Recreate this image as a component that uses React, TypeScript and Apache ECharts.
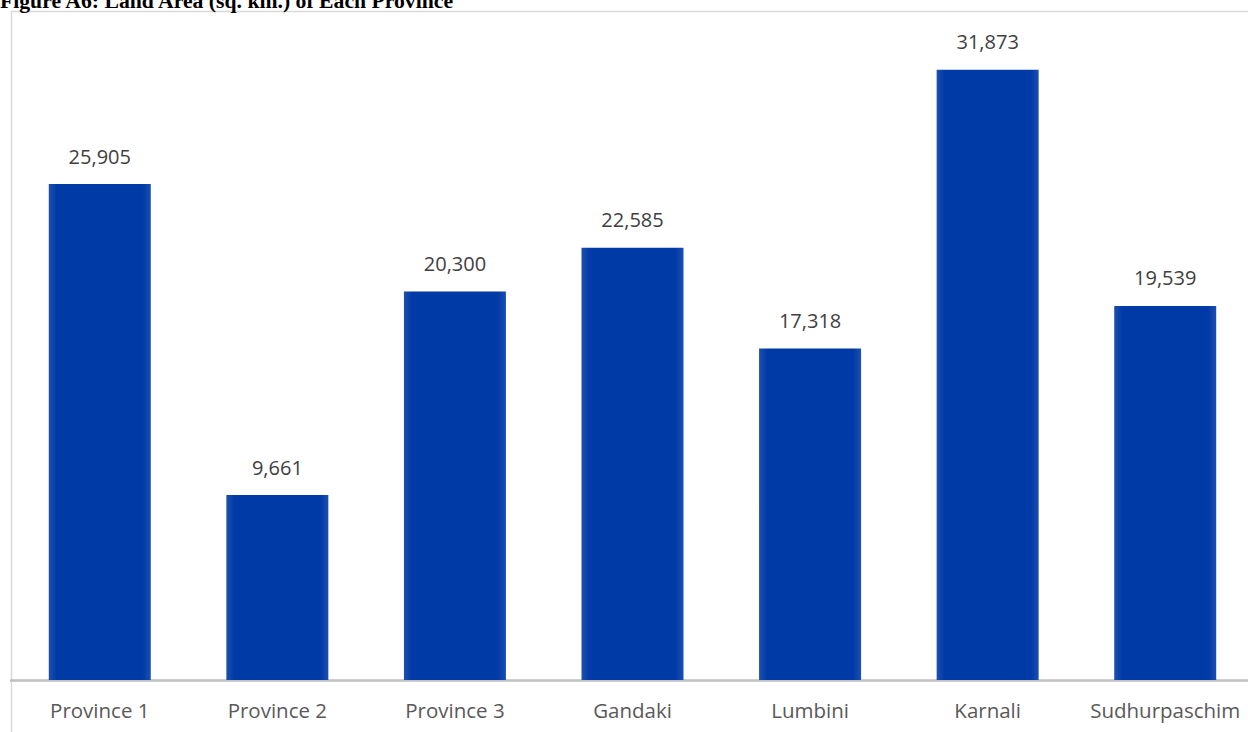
import React, { useEffect, useRef } from "react";
import * as echarts from "echarts";

const categories = ["Province 1", "Province 2", "Province 3", "Gandaki", "Lumbini", "Karnali", "Sudhurpaschim"];
const areas = [25905, 9661, 20300, 22585, 17318, 31873, 19539];
const titleText = "Figure A6: Land Area (sq. km.) of Each Province";

export default function App() {
  const ref = useRef<HTMLDivElement>(null);
  useEffect(() => {
    if (!ref.current) return;
    const chart = echarts.init(ref.current, null, { renderer: "svg" });
    chart.setOption({
      animation: false,
      backgroundColor: "#ffffff",
      grid: { left: 11, right: 8, top: 10, bottom: 52, containLabel: false },
      xAxis: {
        type: "category",
        data: categories,
        axisLine: { show: true, lineStyle: { color: "#bfbfbf", width: 2.5 } },
        axisTick: { show: false },
        axisLabel: { interval: 0, color: "#595959", fontSize: 20.5, fontFamily: "Open Sans", margin: 19, hideOverlap: false },
      },
      yAxis: { type: "value", min: 0, max: 35000, show: false, splitLine: { show: false } },
      graphic: [
        {
          type: "rect",
          z: -1,
          shape: { x: 11.5, y: 11.5, width: 1400, height: 900 },
          style: { fill: "none", stroke: "#d9d9d9", lineWidth: 1.5 },
          silent: true,
        },
        {
          type: "text",
          x: 0,
          y: 1,
          style: {
            text: titleText,
            font: "bold 21.7px 'Liberation Serif', 'Times New Roman', serif",
            fill: "#000000",
            align: "left",
            verticalAlign: "middle",
          },
        },
      ],
      series: [
        {
          type: "bar",
          data: areas,
          barWidth: 102,
          itemStyle: {
            color: {
              type: "linear",
              x: 0, y: 0, x2: 1, y2: 0,
              colorStops: [
                { offset: 0, color: "#1d4fb0" },
                { offset: 0.08, color: "#003aa6" },
                { offset: 0.92, color: "#003aa6" },
                { offset: 1, color: "#1d4fb0" },
              ],
            },
          },
          label: {
            show: true,
            position: "top",
            distance: 18,
            color: "#404040",
            fontSize: 20,
            fontFamily: "Open Sans",
            formatter: (p: any) => Number(p.value).toLocaleString("en-US"),
          },
        },
      ],
    });
    return () => chart.dispose();
  }, []);
  return (
    <div style={{ position: "fixed", left: 0, top: 0, width: 1248, height: 732, overflow: "hidden", background: "#fff" }}>
      <div ref={ref} style={{ width: 1262, height: 732 }} />
    </div>
  );
}
